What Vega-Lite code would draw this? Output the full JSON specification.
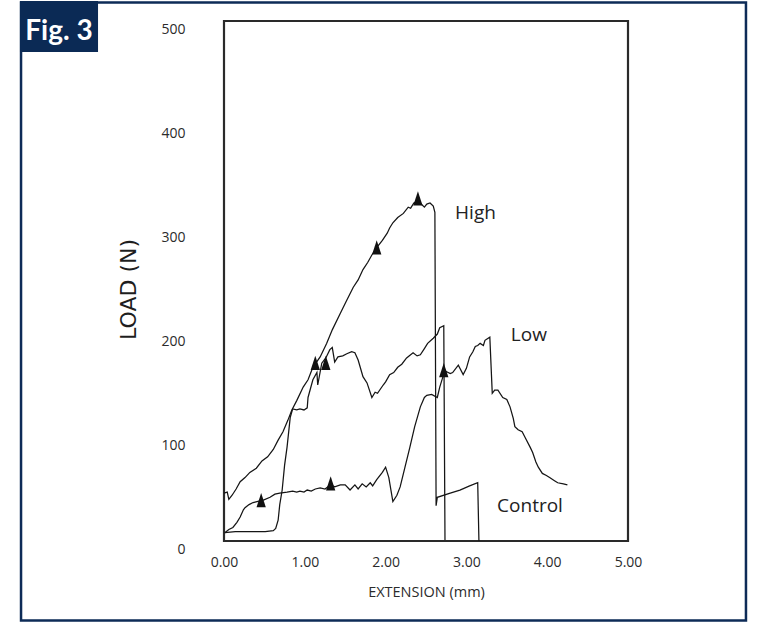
{
  "$schema": "https://vega.github.io/schema/vega-lite/v6.json",
  "width": 404,
  "height": 520,
  "autosize": "none",
  "padding": {"left": 224, "top": 21, "right": 130, "bottom": 81},
  "background": "white",
  "config": {
    "view": {"stroke": "#2a2a2a", "strokeWidth": 2.2},
    "font": "Open Sans"
  },
  "datasets": {
    "curves": [
      {"s": "High", "x": 0.00, "y": 46}, {"s": "High", "x": 0.04, "y": 47}, {"s": "High", "x": 0.06, "y": 40}, {"s": "High", "x": 0.10, "y": 44},
      {"s": "High", "x": 0.15, "y": 50}, {"s": "High", "x": 0.20, "y": 57}, {"s": "High", "x": 0.26, "y": 61}, {"s": "High", "x": 0.32, "y": 66},
      {"s": "High", "x": 0.40, "y": 70}, {"s": "High", "x": 0.47, "y": 77}, {"s": "High", "x": 0.54, "y": 81}, {"s": "High", "x": 0.61, "y": 88},
      {"s": "High", "x": 0.67, "y": 97}, {"s": "High", "x": 0.73, "y": 105}, {"s": "High", "x": 0.79, "y": 116}, {"s": "High", "x": 0.84, "y": 126},
      {"s": "High", "x": 0.90, "y": 135}, {"s": "High", "x": 0.98, "y": 148}, {"s": "High", "x": 1.04, "y": 155}, {"s": "High", "x": 1.10, "y": 167},
      {"s": "High", "x": 1.19, "y": 177}, {"s": "High", "x": 1.27, "y": 190}, {"s": "High", "x": 1.34, "y": 203}, {"s": "High", "x": 1.44, "y": 219},
      {"s": "High", "x": 1.51, "y": 230}, {"s": "High", "x": 1.60, "y": 244}, {"s": "High", "x": 1.66, "y": 251}, {"s": "High", "x": 1.72, "y": 261},
      {"s": "High", "x": 1.78, "y": 268}, {"s": "High", "x": 1.83, "y": 275}, {"s": "High", "x": 1.89, "y": 282}, {"s": "High", "x": 1.96, "y": 289},
      {"s": "High", "x": 2.02, "y": 296}, {"s": "High", "x": 2.05, "y": 301}, {"s": "High", "x": 2.09, "y": 306}, {"s": "High", "x": 2.15, "y": 311},
      {"s": "High", "x": 2.22, "y": 315}, {"s": "High", "x": 2.28, "y": 321}, {"s": "High", "x": 2.31, "y": 320}, {"s": "High", "x": 2.35, "y": 325},
      {"s": "High", "x": 2.40, "y": 327}, {"s": "High", "x": 2.44, "y": 324}, {"s": "High", "x": 2.48, "y": 321}, {"s": "High", "x": 2.51, "y": 324},
      {"s": "High", "x": 2.55, "y": 325}, {"s": "High", "x": 2.59, "y": 322}, {"s": "High", "x": 2.61, "y": 316}, {"s": "High", "x": 2.625, "y": 34},
      {"s": "High", "x": 2.64, "y": 42}, {"s": "High", "x": 2.80, "y": 46}, {"s": "High", "x": 2.92, "y": 49}, {"s": "High", "x": 3.04, "y": 53},
      {"s": "High", "x": 3.14, "y": 56}, {"s": "High", "x": 3.155, "y": 0},

      {"s": "Low", "x": 0.01, "y": 8}, {"s": "Low", "x": 0.14, "y": 9}, {"s": "Low", "x": 0.32, "y": 9}, {"s": "Low", "x": 0.51, "y": 9},
      {"s": "Low", "x": 0.61, "y": 10}, {"s": "Low", "x": 0.64, "y": 12}, {"s": "Low", "x": 0.67, "y": 20}, {"s": "Low", "x": 0.69, "y": 35},
      {"s": "Low", "x": 0.72, "y": 49}, {"s": "Low", "x": 0.75, "y": 73}, {"s": "Low", "x": 0.78, "y": 90}, {"s": "Low", "x": 0.82, "y": 119},
      {"s": "Low", "x": 0.85, "y": 127}, {"s": "Low", "x": 0.90, "y": 126}, {"s": "Low", "x": 0.94, "y": 127}, {"s": "Low", "x": 0.99, "y": 126},
      {"s": "Low", "x": 1.03, "y": 128}, {"s": "Low", "x": 1.04, "y": 138}, {"s": "Low", "x": 1.10, "y": 155}, {"s": "Low", "x": 1.15, "y": 162},
      {"s": "Low", "x": 1.16, "y": 150}, {"s": "Low", "x": 1.21, "y": 171}, {"s": "Low", "x": 1.26, "y": 176}, {"s": "Low", "x": 1.31, "y": 184},
      {"s": "Low", "x": 1.34, "y": 186}, {"s": "Low", "x": 1.37, "y": 172}, {"s": "Low", "x": 1.41, "y": 177}, {"s": "Low", "x": 1.47, "y": 178},
      {"s": "Low", "x": 1.52, "y": 180}, {"s": "Low", "x": 1.58, "y": 182}, {"s": "Low", "x": 1.62, "y": 181}, {"s": "Low", "x": 1.66, "y": 174},
      {"s": "Low", "x": 1.72, "y": 158}, {"s": "Low", "x": 1.77, "y": 152}, {"s": "Low", "x": 1.83, "y": 138}, {"s": "Low", "x": 1.87, "y": 143},
      {"s": "Low", "x": 1.90, "y": 142}, {"s": "Low", "x": 1.97, "y": 150}, {"s": "Low", "x": 2.00, "y": 153}, {"s": "Low", "x": 2.05, "y": 160},
      {"s": "Low", "x": 2.10, "y": 162}, {"s": "Low", "x": 2.15, "y": 167}, {"s": "Low", "x": 2.20, "y": 170}, {"s": "Low", "x": 2.26, "y": 176},
      {"s": "Low", "x": 2.34, "y": 181}, {"s": "Low", "x": 2.39, "y": 178}, {"s": "Low", "x": 2.43, "y": 179}, {"s": "Low", "x": 2.48, "y": 185},
      {"s": "Low", "x": 2.52, "y": 190}, {"s": "Low", "x": 2.59, "y": 195}, {"s": "Low", "x": 2.64, "y": 199}, {"s": "Low", "x": 2.67, "y": 205},
      {"s": "Low", "x": 2.72, "y": 207}, {"s": "Low", "x": 2.735, "y": 1},

      {"s": "Control", "x": 0.01, "y": 8}, {"s": "Control", "x": 0.06, "y": 11}, {"s": "Control", "x": 0.11, "y": 13}, {"s": "Control", "x": 0.16, "y": 18},
      {"s": "Control", "x": 0.20, "y": 23}, {"s": "Control", "x": 0.24, "y": 30}, {"s": "Control", "x": 0.26, "y": 32}, {"s": "Control", "x": 0.31, "y": 35},
      {"s": "Control", "x": 0.36, "y": 37}, {"s": "Control", "x": 0.42, "y": 38}, {"s": "Control", "x": 0.48, "y": 39}, {"s": "Control", "x": 0.57, "y": 42},
      {"s": "Control", "x": 0.63, "y": 45}, {"s": "Control", "x": 0.69, "y": 46}, {"s": "Control", "x": 0.78, "y": 47}, {"s": "Control", "x": 0.85, "y": 48},
      {"s": "Control", "x": 0.90, "y": 47}, {"s": "Control", "x": 0.94, "y": 48}, {"s": "Control", "x": 0.99, "y": 47}, {"s": "Control", "x": 1.03, "y": 49},
      {"s": "Control", "x": 1.08, "y": 48}, {"s": "Control", "x": 1.13, "y": 50}, {"s": "Control", "x": 1.19, "y": 51}, {"s": "Control", "x": 1.25, "y": 50},
      {"s": "Control", "x": 1.32, "y": 54}, {"s": "Control", "x": 1.37, "y": 52}, {"s": "Control", "x": 1.44, "y": 54}, {"s": "Control", "x": 1.50, "y": 54},
      {"s": "Control", "x": 1.56, "y": 49}, {"s": "Control", "x": 1.62, "y": 54}, {"s": "Control", "x": 1.66, "y": 50}, {"s": "Control", "x": 1.71, "y": 55},
      {"s": "Control", "x": 1.76, "y": 52}, {"s": "Control", "x": 1.81, "y": 56}, {"s": "Control", "x": 1.84, "y": 53}, {"s": "Control", "x": 1.89, "y": 59},
      {"s": "Control", "x": 1.96, "y": 66}, {"s": "Control", "x": 2.00, "y": 71}, {"s": "Control", "x": 2.04, "y": 61}, {"s": "Control", "x": 2.09, "y": 38},
      {"s": "Control", "x": 2.14, "y": 44}, {"s": "Control", "x": 2.18, "y": 52}, {"s": "Control", "x": 2.24, "y": 71}, {"s": "Control", "x": 2.30, "y": 90},
      {"s": "Control", "x": 2.36, "y": 110}, {"s": "Control", "x": 2.43, "y": 129}, {"s": "Control", "x": 2.48, "y": 138}, {"s": "Control", "x": 2.51, "y": 140},
      {"s": "Control", "x": 2.57, "y": 141}, {"s": "Control", "x": 2.64, "y": 138}, {"s": "Control", "x": 2.67, "y": 148}, {"s": "Control", "x": 2.71, "y": 158},
      {"s": "Control", "x": 2.75, "y": 163}, {"s": "Control", "x": 2.80, "y": 161}, {"s": "Control", "x": 2.83, "y": 162}, {"s": "Control", "x": 2.90, "y": 169},
      {"s": "Control", "x": 2.96, "y": 160}, {"s": "Control", "x": 3.00, "y": 166}, {"s": "Control", "x": 3.04, "y": 177}, {"s": "Control", "x": 3.08, "y": 182},
      {"s": "Control", "x": 3.11, "y": 187}, {"s": "Control", "x": 3.14, "y": 188}, {"s": "Control", "x": 3.17, "y": 190}, {"s": "Control", "x": 3.21, "y": 188},
      {"s": "Control", "x": 3.23, "y": 193}, {"s": "Control", "x": 3.29, "y": 196}, {"s": "Control", "x": 3.32, "y": 142}, {"s": "Control", "x": 3.35, "y": 145},
      {"s": "Control", "x": 3.39, "y": 145}, {"s": "Control", "x": 3.45, "y": 138}, {"s": "Control", "x": 3.50, "y": 136}, {"s": "Control", "x": 3.54, "y": 129},
      {"s": "Control", "x": 3.58, "y": 118}, {"s": "Control", "x": 3.60, "y": 110}, {"s": "Control", "x": 3.64, "y": 107}, {"s": "Control", "x": 3.69, "y": 105},
      {"s": "Control", "x": 3.73, "y": 99}, {"s": "Control", "x": 3.79, "y": 90}, {"s": "Control", "x": 3.82, "y": 85}, {"s": "Control", "x": 3.86, "y": 76},
      {"s": "Control", "x": 3.89, "y": 71}, {"s": "Control", "x": 3.94, "y": 65}, {"s": "Control", "x": 3.99, "y": 63}, {"s": "Control", "x": 4.03, "y": 61},
      {"s": "Control", "x": 4.09, "y": 58}, {"s": "Control", "x": 4.13, "y": 56}, {"s": "Control", "x": 4.20, "y": 55}, {"s": "Control", "x": 4.25, "y": 54}
    ],
    "markers": [
      {"x": 2.40, "y": 329}, {"x": 1.89, "y": 282}, {"x": 1.13, "y": 171}, {"x": 1.26, "y": 171},
      {"x": 0.46, "y": 39}, {"x": 1.32, "y": 55}, {"x": 2.72, "y": 164}
    ],
    "labels": [
      {"t": "High", "x": 2.86, "y": 310},
      {"t": "Low", "x": 3.55, "y": 192},
      {"t": "Control", "x": 3.38, "y": 28}
    ]
  },
  "layer": [
    {
      "data": {"name": "curves"},
      "mark": {"type": "line", "color": "#151515", "strokeWidth": 1.25},
      "encoding": {
        "x": {
          "field": "x", "type": "quantitative",
          "scale": {"domain": [0, 5], "nice": false, "zero": false},
          "axis": {
            "values": [0, 1, 2, 3, 4, 5], "format": ".2f", "ticks": false, "domain": false, "grid": false,
            "labelFlush": false, "labelOverlap": false,
            "labelPadding": 14, "labelFont": "Open Sans", "labelFontSize": 14, "labelColor": "#2b2b2b",
            "title": "EXTENSION (mm)", "titleFont": "Open Sans", "titleFontSize": 14.5, "titleFontWeight": "normal",
            "titleColor": "#2b2b2b", "titlePadding": 16
          }
        },
        "y": {
          "field": "y", "type": "quantitative",
          "scale": {"domain": [0, 500], "nice": false},
          "axis": {
            "values": [0, 100, 200, 300, 400, 500], "ticks": false, "domain": false, "grid": false,
            "labelFlush": false, "labelOverlap": false,
            "labelPadding": 39, "labelOffset": 8, "labelFont": "Open Sans", "labelFontSize": 14, "labelColor": "#2b2b2b",
            "title": "LOAD (N)", "titleFont": "DejaVu Sans", "titleFontSize": 22, "titleFontWeight": "normal",
            "titleColor": "#1e1e1e", "titlePadding": 20, "titleY": 268
          }
        },
        "detail": {"field": "s"},
        "order": {"value": null}
      }
    },
    {
      "data": {"values": [{}]},
      "mark": {"type": "rect", "fill": null, "stroke": "#0d2b57", "strokeWidth": 2.5, "clip": false},
      "encoding": {
        "x": {"datum": -2.512, "type": "quantitative"},
        "x2": {"datum": 6.46},
        "y": {"datum": 517.8, "type": "quantitative"},
        "y2": {"datum": -76.4}
      }
    },
    {
      "data": {"values": [{}]},
      "mark": {"type": "rect", "fill": "#0b2a55", "clip": false},
      "encoding": {
        "x": {"datum": -2.525, "type": "quantitative"},
        "x2": {"datum": -1.559},
        "y": {"datum": 519.2, "type": "quantitative"},
        "y2": {"datum": 470.2}
      }
    },
    {
      "data": {"values": [{"t": "Fig. 3"}]},
      "mark": {"type": "text", "color": "white", "font": "Lato", "fontWeight": "bold", "fontSize": 28, "align": "center", "baseline": "alphabetic", "clip": false},
      "encoding": {
        "x": {"datum": -2.042, "type": "quantitative"},
        "y": {"datum": 481.5, "type": "quantitative"},
        "text": {"field": "t"}
      }
    },
    {
      "data": {"name": "markers"},
      "mark": {"type": "point", "shape": "M0,-1L-0.62,0.9L0.62,0.9Z", "filled": true, "color": "#111111", "size": 225, "opacity": 1},
      "encoding": {
        "x": {"field": "x", "type": "quantitative"},
        "y": {"field": "y", "type": "quantitative"}
      }
    },
    {
      "data": {"name": "labels"},
      "mark": {"type": "text", "font": "Open Sans", "fontSize": 19, "color": "#222222", "align": "left", "baseline": "alphabetic"},
      "encoding": {
        "x": {"field": "x", "type": "quantitative"},
        "y": {"field": "y", "type": "quantitative"},
        "text": {"field": "t"}
      }
    }
  ]
}
